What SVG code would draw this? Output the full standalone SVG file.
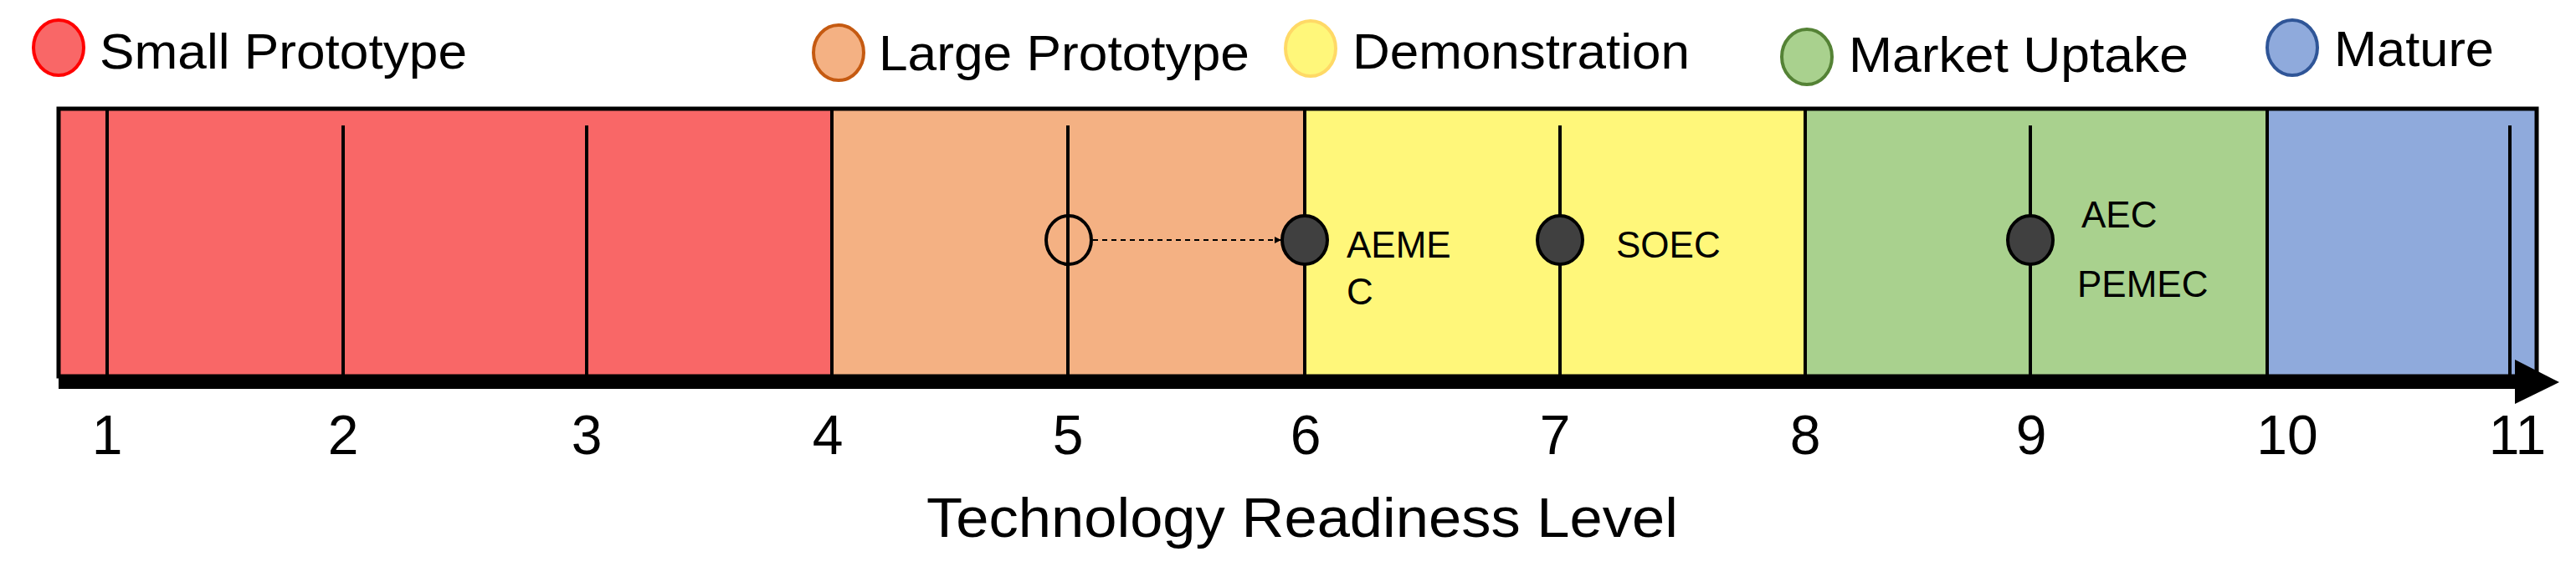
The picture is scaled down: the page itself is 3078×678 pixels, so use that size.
<svg xmlns="http://www.w3.org/2000/svg" width="3078" height="678" viewBox="0 0 3078 678">
<style>
text{font-family:"Liberation Sans",Arial,sans-serif;fill:#000}
.lg{font-size:60px}
.num{font-size:66px;text-anchor:middle}
.lab{font-size:44px}
.tk{stroke:#000;stroke-width:4}
.lgc{stroke-width:4}
.dot{fill:#404040;stroke:#000;stroke-width:4}
</style>
<defs>
<marker id="ah" markerWidth="8" markerHeight="8" refX="7" refY="4" orient="auto" markerUnits="userSpaceOnUse" viewBox="0 0 8 8"><path d="M0,0 L8,4 L0,8 z" fill="#000"/></marker>
</defs>
<g id="legend">
<g id="leg-small"><ellipse class="lgc" cx="70" cy="57" rx="30" ry="33" fill="#F96767" stroke="#FF0000"/><text class="lg" x="119" y="82" textLength="439" lengthAdjust="spacingAndGlyphs">Small Prototype</text></g>
<g id="leg-large"><ellipse class="lgc" cx="1002" cy="63" rx="30" ry="33" fill="#F4B183" stroke="#C55A11"/><text class="lg" x="1050" y="84" textLength="443" lengthAdjust="spacingAndGlyphs">Large Prototype</text></g>
<g id="leg-demo"><ellipse class="lgc" cx="1566" cy="58" rx="30" ry="33" fill="#FFF77A" stroke="#FFD966"/><text class="lg" x="1616" y="82" textLength="403" lengthAdjust="spacingAndGlyphs">Demonstration</text></g>
<g id="leg-market"><ellipse class="lgc" cx="2159" cy="68" rx="30" ry="33" fill="#A9D18E" stroke="#548235"/><text class="lg" x="2209" y="86" textLength="406" lengthAdjust="spacingAndGlyphs">Market Uptake</text></g>
<g id="leg-mature"><ellipse class="lgc" cx="2739" cy="57" rx="30" ry="33" fill="#8FAADC" stroke="#2F5597"/><text class="lg" x="2789" y="79" textLength="191" lengthAdjust="spacingAndGlyphs">Mature</text></g>
</g>
<g id="bands">
<rect x="70" y="130" width="924" height="320" fill="#F96767"/>
<rect x="994" y="130" width="565" height="320" fill="#F4B183"/>
<rect x="1559" y="130" width="598" height="320" fill="#FFF77A"/>
<rect x="2157" y="130" width="552" height="320" fill="#A9D18E"/>
<rect x="2709" y="130" width="322" height="320" fill="#8FAADC"/>
<rect x="70" y="130" width="2961" height="320" fill="none" stroke="#000" stroke-width="5"/>
</g>
<g id="ticks">
<line class="tk" x1="128" y1="130" x2="128" y2="450"/>
<line class="tk" x1="410" y1="150" x2="410" y2="450"/>
<line class="tk" x1="701" y1="150" x2="701" y2="450"/>
<line class="tk" x1="994" y1="130" x2="994" y2="450"/>
<line class="tk" x1="1276" y1="150" x2="1276" y2="450"/>
<line class="tk" x1="1559" y1="130" x2="1559" y2="450"/>
<line class="tk" x1="1864" y1="150" x2="1864" y2="450"/>
<line class="tk" x1="2157" y1="130" x2="2157" y2="450"/>
<line class="tk" x1="2426" y1="150" x2="2426" y2="450"/>
<line class="tk" x1="2709" y1="130" x2="2709" y2="450"/>
<line class="tk" x1="2999" y1="150" x2="2999" y2="450"/>
</g>
<g id="axis">
<rect x="70" y="449" width="2940" height="16" fill="#000"/>
<polygon points="3005,430 3058,457 3005,483" fill="#000"/>
</g>
<g id="connectors">
<line x1="1306" y1="287" x2="1530" y2="287" stroke="#000" stroke-width="2" stroke-dasharray="6,5" marker-end="url(#ah)"/>
</g>
<g id="node-aemec-old"><ellipse cx="1277" cy="287" rx="27" ry="29" fill="none" stroke="#000" stroke-width="4"/></g>
<g id="node-aemec"><ellipse class="dot" cx="1559" cy="287" rx="27" ry="29"/><text class="lab" x="1609" y="308">AEME</text><text class="lab" x="1609" y="364">C</text></g>
<g id="node-soec"><ellipse class="dot" cx="1864" cy="287" rx="27" ry="29"/><text class="lab" x="1931" y="308">SOEC</text></g>
<g id="node-aec"><ellipse class="dot" cx="2426" cy="287" rx="27" ry="29"/><text class="lab" x="2487" y="272">AEC</text><text class="lab" x="2482" y="355">PEMEC</text></g>
<g id="numbers">
<text class="num" x="128" y="543">1</text>
<text class="num" x="410" y="543">2</text>
<text class="num" x="701" y="543">3</text>
<text class="num" x="989" y="543">4</text>
<text class="num" x="1276" y="543">5</text>
<text class="num" x="1560" y="543">6</text>
<text class="num" x="1858" y="543">7</text>
<text class="num" x="2157" y="543">8</text>
<text class="num" x="2427" y="543">9</text>
<text class="num" x="2733" y="543">10</text>
<text class="num" x="3008" y="543">11</text>
</g>
<text x="1556" y="642" font-size="66" text-anchor="middle" textLength="898" lengthAdjust="spacingAndGlyphs">Technology Readiness Level</text>
</svg>
